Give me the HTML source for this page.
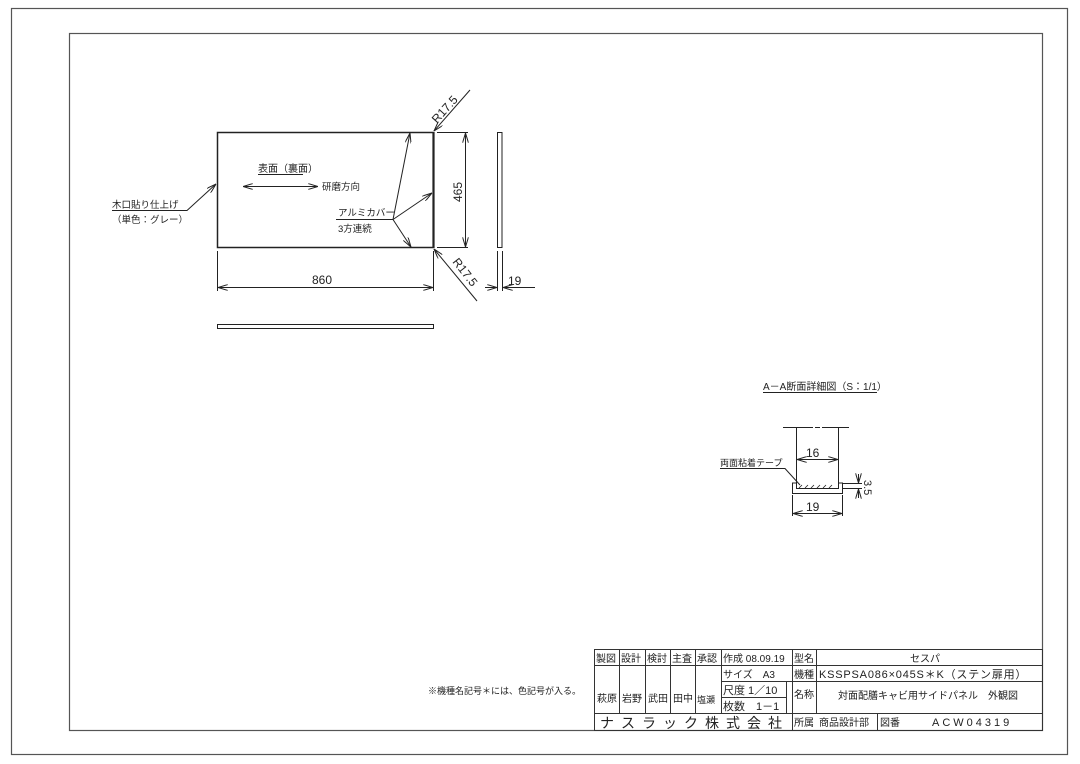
<!DOCTYPE html>
<html><head><meta charset="utf-8"><style>
html,body{margin:0;padding:0;background:#fff;}
svg{display:block;}
text{font-family:"Liberation Sans","Noto Sans CJK JP",sans-serif;fill:#222;}
</style></head><body>
<svg width="1080" height="764" viewBox="0 0 1080 764" xmlns="http://www.w3.org/2000/svg">
<defs>
<marker id="a" viewBox="0 0 10 6" refX="10" refY="3" markerWidth="10" markerHeight="6" orient="auto-start-reverse" markerUnits="userSpaceOnUse"><path d="M0,0 L10,3 L0,6" fill="none" stroke="#222" stroke-width="1"/></marker>
</defs>
<g fill="none" stroke="#555" stroke-width="1.2">
<rect x="11.5" y="8.5" width="1056" height="746"/>
<rect x="69.5" y="33.5" width="973" height="697"/>
</g>
<g fill="none" stroke="#222" stroke-width="1">
<rect x="217.5" y="132.5" width="216" height="115" stroke-width="1.5"/>
<line x1="433.5" y1="132" x2="433.5" y2="248" stroke-width="2.2"/>
<rect x="497.5" y="132.5" width="4.5" height="115"/>
<rect x="217.5" y="324.5" width="216" height="4"/>
<line x1="217.5" y1="251" x2="217.5" y2="291"/>
<line x1="433.5" y1="251" x2="433.5" y2="291"/>
<line x1="218" y1="287.5" x2="433" y2="287.5" marker-start="url(#a)" marker-end="url(#a)"/>
<line x1="437" y1="132.5" x2="468" y2="132.5"/>
<line x1="437" y1="247.5" x2="468" y2="247.5"/>
<line x1="465.5" y1="133" x2="465.5" y2="247" marker-start="url(#a)" marker-end="url(#a)"/>
<line x1="497.5" y1="251" x2="497.5" y2="291"/>
<line x1="502.5" y1="251" x2="502.5" y2="291"/>
<line x1="485" y1="287.5" x2="497" y2="287.5" marker-end="url(#a)"/>
<line x1="535" y1="287.5" x2="503" y2="287.5" marker-end="url(#a)"/>
<line x1="470" y1="90" x2="434" y2="131" marker-end="url(#a)"/>
<line x1="477" y1="301" x2="434" y2="249" marker-end="url(#a)"/>
<polyline points="112,210.5 187,210.5 216,184" marker-end="url(#a)"/>
<line x1="243" y1="186.5" x2="318" y2="186.5" marker-start="url(#a)" marker-end="url(#a)"/>
<line x1="258" y1="174.5" x2="303" y2="174.5"/>
<polyline points="336,219.5 393,219.5"/>
<line x1="393" y1="219.5" x2="410" y2="133" marker-end="url(#a)"/>
<line x1="393" y1="219.5" x2="432" y2="193" marker-end="url(#a)"/>
<line x1="393" y1="219.5" x2="411" y2="247" marker-end="url(#a)"/>
<line x1="763" y1="392.5" x2="877" y2="392.5"/>
<line x1="783" y1="427.5" x2="813" y2="427.5"/>
<line x1="815" y1="427.5" x2="820" y2="427.5"/>
<line x1="822" y1="427.5" x2="849" y2="427.5"/>
<line x1="796.5" y1="427" x2="796.5" y2="488"/>
<line x1="838.5" y1="427" x2="838.5" y2="488"/>
<path d="M792.5,483 L792.5,493.5 L842.5,493.5 L842.5,483 L838.5,483 L838.5,488.5 L796.5,488.5 L796.5,483 Z"/>
<path d="M799,488 l3,-3 M805,488 l3,-3 M811,488 l3,-3 M817,488 l3,-3 M823,488 l3,-3 M829,488 l3,-3" stroke-width="0.8"/>
<line x1="797" y1="459.5" x2="838" y2="459.5" marker-start="url(#a)" marker-end="url(#a)"/>
<line x1="792.5" y1="495" x2="792.5" y2="516"/>
<line x1="842.5" y1="495" x2="842.5" y2="516"/>
<line x1="793" y1="513.5" x2="842" y2="513.5" marker-start="url(#a)" marker-end="url(#a)"/>
<line x1="843" y1="483.5" x2="862" y2="483.5"/>
<line x1="843" y1="488.5" x2="862" y2="488.5"/>
<line x1="858.5" y1="474" x2="858.5" y2="483" marker-end="url(#a)"/>
<line x1="858.5" y1="498" x2="858.5" y2="489" marker-end="url(#a)"/>
<polyline points="720,468.5 785,468.5 800,485"/>
</g>
<g font-size="10">
<text x="258" y="172">表面（裏面）</text>
<text x="322" y="190" font-size="9.5">研磨方向</text>
<text x="112" y="208" font-size="9.5">木口貼り仕上げ</text>
<text x="112" y="223" font-size="9.5">（単色：グレー）</text>
<text x="338" y="216" font-size="9.5">アルミカバー</text>
<text x="338" y="232" font-size="9.5">3方連続</text>
<text x="312" y="284" font-size="12">860</text>
<text x="508" y="285" font-size="12">19</text>
<text transform="translate(462,202) rotate(-90)" font-size="12">465</text>
<text transform="translate(437,124) rotate(-48)" font-size="12">R17.5</text>
<text transform="translate(452,262) rotate(52)" font-size="12">R17.5</text>
<text x="763" y="390" font-size="10">A－A断面詳細図（S：1/1）</text>
<text x="720" y="466" font-size="9">両面粘着テープ</text>
<text x="806" y="457" font-size="12">16</text>
<text x="806" y="511" font-size="12">19</text>
<text transform="translate(864,480) rotate(90)" font-size="11">3.5</text>
<text x="428" y="694" font-size="9">※機種名記号＊には、色記号が入る。</text>
</g>
<g fill="none" stroke="#333" stroke-width="1">
<rect x="594.5" y="649.5" width="448" height="81"/>
<line x1="594" y1="665.5" x2="1042" y2="665.5"/>
<line x1="721" y1="681.5" x2="1042" y2="681.5"/>
<line x1="721" y1="697.5" x2="786" y2="697.5"/>
<line x1="594" y1="713.5" x2="1042" y2="713.5"/>
<line x1="619.5" y1="649" x2="619.5" y2="713"/>
<line x1="645.5" y1="649" x2="645.5" y2="713"/>
<line x1="670.5" y1="649" x2="670.5" y2="713"/>
<line x1="695.5" y1="649" x2="695.5" y2="713"/>
<line x1="721.5" y1="649" x2="721.5" y2="713"/>
<line x1="786.5" y1="681" x2="786.5" y2="713"/>
<line x1="792.5" y1="649" x2="792.5" y2="730"/>
<line x1="816.5" y1="649" x2="816.5" y2="713"/>
<line x1="877.5" y1="713" x2="877.5" y2="730"/>
</g>
<g font-size="10">
<text x="596" y="662">製図</text><text x="621" y="662">設計</text><text x="647" y="662">検討</text><text x="672" y="662">主査</text><text x="697" y="662">承認</text>
<text x="597" y="702">萩原</text><text x="622" y="702">岩野</text><text x="648" y="702">武田</text><text x="673" y="702">田中</text><text x="697" y="703" font-size="9">塩瀬</text>
<text x="723" y="662">作成 08.09.19</text>
<text x="723" y="678">サイズ　A3</text>
<text x="723" y="694" font-size="11">尺度 1／10</text>
<text x="723" y="710" font-size="11">枚数　1－1</text>
<text x="794" y="662">型名</text><text x="794" y="678">機種</text><text x="794" y="698">名称</text><text x="794" y="726">所属</text>
<text x="910" y="662">セスパ</text>
<text x="819" y="678" font-size="11" letter-spacing="0.8">KSSPSA086×045S＊K（ステン扉用）</text>
<text x="838" y="699">対面配膳キャビ用サイドパネル　外観図</text>
<text x="600" y="728" font-size="14" letter-spacing="7">ナスラック株式会社</text>
<text x="819" y="726">商品設計部</text><text x="880" y="726">図番</text>
<text x="932" y="726" font-size="11" letter-spacing="3">ACW04319</text>
</g>
</svg>
</body></html>
